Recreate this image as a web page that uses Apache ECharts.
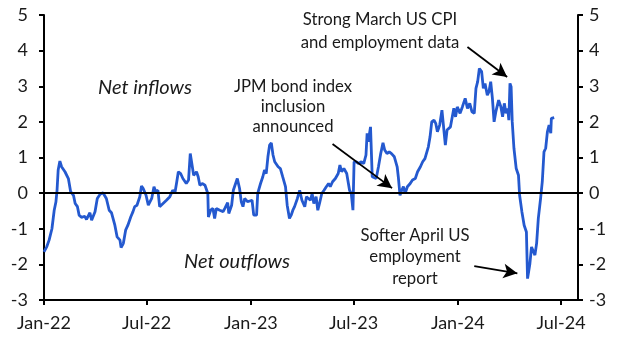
<!DOCTYPE html>
<html><head><meta charset="utf-8">
<script src="https://cdn.jsdelivr.net/npm/echarts@6/dist/echarts.min.js"></script>
<style>html,body{margin:0;padding:0;background:#fff}#c{width:629px;height:356px}</style>
</head><body><div id="c"></div>
<script>
const dates = ['2022-01-01','2022-01-06','2022-01-10','2022-01-15','2022-01-19','2022-01-22','2022-01-24','2022-01-26','2022-01-29','2022-02-01','2022-02-07','2022-02-13','2022-02-17','2022-02-22','2022-02-25','2022-03-01','2022-03-04','2022-03-08','2022-03-14','2022-03-17','2022-03-23','2022-03-26','2022-04-01','2022-04-05','2022-04-10','2022-04-15','2022-04-18','2022-04-21','2022-04-26','2022-04-30','2022-05-06','2022-05-10','2022-05-15','2022-05-17','2022-05-21','2022-05-25','2022-05-29','2022-06-03','2022-06-07','2022-06-10','2022-06-14','2022-06-19','2022-06-22','2022-06-25','2022-06-30','2022-07-04','2022-07-10','2022-07-14','2022-07-17','2022-07-21','2022-07-24','2022-07-30','2022-08-05','2022-08-11','2022-08-16','2022-08-20','2022-08-23','2022-08-26','2022-08-30','2022-09-03','2022-09-09','2022-09-13','2022-09-16','2022-09-19','2022-09-22','2022-09-27','2022-09-30','2022-10-03','2022-10-07','2022-10-12','2022-10-15','2022-10-17','2022-10-18','2022-10-22','2022-10-26','2022-10-29','2022-11-01','2022-11-07','2022-11-13','2022-11-16','2022-11-21','2022-11-23','2022-11-28','2022-12-01','2022-12-05','2022-12-08','2022-12-10','2022-12-12','2022-12-15','2022-12-18','2022-12-21','2022-12-26','2022-12-30','2023-01-03','2023-01-06','2023-01-11','2023-01-13','2023-01-18','2023-01-22','2023-01-25','2023-01-28','2023-01-31','2023-02-03','2023-02-06','2023-02-09','2023-02-12','2023-02-15','2023-02-18','2023-02-22','2023-02-26','2023-03-03','2023-03-06','2023-03-10','2023-03-13','2023-03-16','2023-03-19','2023-03-24','2023-03-28','2023-03-30','2023-04-01','2023-04-06','2023-04-09','2023-04-12','2023-04-16','2023-04-19','2023-04-22','2023-04-26','2023-04-29','2023-05-02','2023-05-06','2023-05-10','2023-05-14','2023-05-18','2023-05-21','2023-05-25','2023-05-30','2023-06-04','2023-06-07','2023-06-10','2023-06-14','2023-06-19','2023-06-24','2023-06-27','2023-06-30','2023-07-02','2023-07-06','2023-07-10','2023-07-15','2023-07-19','2023-07-23','2023-07-25','2023-07-27','2023-07-31','2023-08-03','2023-08-06','2023-08-10','2023-08-14','2023-08-18','2023-08-22','2023-08-25','2023-08-29','2023-09-02','2023-09-06','2023-09-11','2023-09-16','2023-09-18','2023-09-21','2023-09-24','2023-09-27','2023-09-30','2023-10-04','2023-10-09','2023-10-13','2023-10-18','2023-10-22','2023-10-27','2023-10-31','2023-11-04','2023-11-07','2023-11-10','2023-11-13','2023-11-16','2023-11-20','2023-11-23','2023-11-26','2023-11-30','2023-12-04','2023-12-10','2023-12-13','2023-12-19','2023-12-25','2023-12-28','2023-12-31','2024-01-05','2024-01-09','2024-01-14','2024-01-18','2024-01-22','2024-01-26','2024-01-30','2024-02-02','2024-02-05','2024-02-08','2024-02-12','2024-02-15','2024-02-18','2024-02-22','2024-02-25','2024-02-28','2024-03-02','2024-03-05','2024-03-08','2024-03-13','2024-03-17','2024-03-20','2024-03-23','2024-03-26','2024-03-29','2024-03-31','2024-04-02','2024-04-04','2024-04-06','2024-04-09','2024-04-13','2024-04-17','2024-04-19','2024-04-23','2024-04-27','2024-05-01','2024-05-03','2024-05-07','2024-05-10','2024-05-13','2024-05-16','2024-05-19','2024-05-22','2024-05-26','2024-05-29','2024-06-01','2024-06-04','2024-06-07','2024-06-10','2024-06-13','2024-06-14','2024-06-17','2024-06-19'];
const values = [-1.65,-1.5,-1.32,-1.0,-0.48,-0.25,0.08,0.65,0.9,0.74,0.6,0.41,0.04,-0.06,-0.29,-0.38,-0.62,-0.68,-0.65,-0.74,-0.55,-0.76,-0.52,-0.15,-0.03,0.01,0.04,-0.15,-0.48,-0.55,-0.9,-1.23,-1.32,-1.53,-1.41,-1.04,-0.9,-0.67,-0.52,-0.38,-0.34,-0.1,0.2,0.13,-0.06,-0.34,-0.15,0.18,0.04,0.08,-0.38,-0.29,-0.2,-0.1,0.08,0.01,0.3,0.6,0.55,0.41,0.27,0.37,1.11,1.11,0.5,0.6,0.46,0.22,0.27,0.22,0.27,-0.01,-0.67,-0.48,-0.43,-0.71,-0.43,-0.48,-0.52,-0.43,-0.27,-0.57,-0.34,0.08,0.27,0.41,0.37,0.13,-0.24,-0.38,-0.15,-0.24,-0.22,-0.2,-0.62,-0.62,-0.01,0.27,0.46,0.65,0.55,1.02,1.35,1.41,1.07,0.88,0.93,0.74,0.69,0.46,0.18,-0.34,-0.71,-0.62,-0.48,-0.38,-0.15,0.08,0.13,-0.2,-0.38,-0.1,-0.06,-0.2,-0.01,-0.29,-0.1,-0.48,-0.29,-0.01,0.08,0.18,0.27,0.18,0.32,0.41,0.55,0.79,0.6,0.69,0.55,0.08,-0.01,-0.48,0.88,0.88,0.83,0.88,0.83,1.07,1.68,1.44,1.86,0.46,0.5,0.41,0.74,1.11,1.41,1.21,1.11,1.16,1.11,1.02,0.74,0.46,-0.06,0.08,0.18,-0.01,0.18,0.27,0.37,0.41,0.6,0.74,0.88,0.97,0.93,1.3,1.58,2.0,2.05,1.96,1.72,1.91,2.33,1.35,1.77,1.86,2.38,2.14,2.42,2.24,2.42,2.66,2.38,2.52,2.28,2.24,2.94,3.13,3.5,3.41,2.94,3.08,2.75,2.85,3.13,2.66,2.0,2.28,2.61,2.42,2.14,2.52,2.24,2.38,2.05,3.08,2.99,2.0,1.26,0.69,0.5,-0.06,-0.52,-0.9,-1.09,-2.4,-2.0,-1.51,-1.46,-1.74,-1.41,-0.71,-0.15,0.32,1.16,1.26,1.72,1.91,1.68,2.1,2.14,2.12];
const tickDates = ['2022-01-01','2022-07-01','2023-01-01','2023-07-01','2024-01-01','2024-07-01'];
const tickLabels = ['Jan-22','Jul-22','Jan-23','Jul-23','Jan-24','Jul-24'];
const xMin = '2022-01-01', xMax = '2024-07-31';
const yMin = -3, yMax = 5, yStep = 1;
const arrows = [
  [['2023-05-25', 1.38], ['2023-09-07', 0.14]],
  [['2024-01-18', 4.10], ['2024-03-28', 3.26]],
  [['2024-01-30', -2.05], ['2024-04-15', -2.25]]
];

function ts(s){ const p = s.split('-').map(Number); return Date.UTC(p[0], p[1]-1, p[2]); }
const tickTs = tickDates.map(ts);
const seriesData = dates.map((d, i) => [ts(d), values[i]]);
const FONT = 'Lato, "Open Sans", sans-serif';

const chart = echarts.init(document.getElementById('c'), null, {renderer: 'canvas'});
const yAxisBase = {
  type: 'value', min: yMin, max: yMax, interval: yStep,
  axisLine: {show: true, lineStyle: {color: '#000', width: 2}},
  axisTick: {show: true, inside: false, length: 5, lineStyle: {color: '#000', width: 2}},
  splitLine: {show: false},
  axisLabel: {color: '#1a1a1a', fontSize: 18, fontFamily: FONT}
};
chart.setOption({
  animation: false,
  backgroundColor: '#fff',
  grid: {left: 44, right: 51, top: 15, bottom: 56, containLabel: false},
  xAxis: {
    type: 'value', min: ts(xMin), max: ts(xMax),
    axisLine: {show: true, onZero: false, lineStyle: {color: '#000', width: 2}},
    axisTick: {show: true, length: 5, lineStyle: {color: '#000', width: 2}, customValues: tickTs},
    axisLabel: {
      color: '#1a1a1a', fontSize: 18, fontFamily: FONT, margin: 14,
      customValues: tickTs, showMinLabel: true, showMaxLabel: true,
      formatter: function (v) { const i = tickTs.indexOf(v); return i >= 0 ? tickLabels[i] : ''; }
    },
    splitLine: {show: false}
  },
  yAxis: [
    Object.assign({}, yAxisBase, {position: 'left', axisLabel: Object.assign({}, yAxisBase.axisLabel, {margin: 16})}),
    Object.assign({}, yAxisBase, {position: 'right', axisLabel: Object.assign({}, yAxisBase.axisLabel, {margin: 11, align: 'left'})})
  ],
  series: [{
    type: 'line', data: seriesData, showSymbol: false, symbol: 'none',
    lineStyle: {color: '#2459CF', width: 2.8}, itemStyle: {color: '#2459CF'},
    z: 3,
    markLine: {
      silent: true, symbol: ['none', 'none'], animation: false,
      label: {show: false},
      lineStyle: {color: '#000', width: 2, type: 'solid'},
      data: [{yAxis: 0, lineStyle: {color: '#000', width: 2, type: 'solid'}}].concat(arrows.map(a => [
        {coord: [ts(a[0][0]), a[0][1]], symbol: 'none', lineStyle: {color: '#000', width: 1.8, type: 'solid'}},
        {coord: [ts(a[1][0]), a[1][1]], symbol: 'arrow', symbolSize: [11, 14]}
      ]))
    }
  }],
  graphic: [
    {type: 'text', x: 145, y: 88, style: {text: 'Net inflows', font: 'italic 20px ' + FONT, fill: '#1a1a1a', align: 'center', verticalAlign: 'middle'}},
    {type: 'text', x: 237, y: 262, style: {text: 'Net outflows', font: 'italic 20px ' + FONT, fill: '#1a1a1a', align: 'center', verticalAlign: 'middle'}},
    {type: 'text', x: 293, y: 107, style: {text: 'JPM bond index\ninclusion\nannounced', font: '16.7px ' + FONT, lineHeight: 20, fill: '#1a1a1a', align: 'center', verticalAlign: 'middle'}},
    {type: 'text', x: 380, y: 31, style: {text: 'Strong March US CPI\nand employment data', font: '16.7px ' + FONT, lineHeight: 23, fill: '#1a1a1a', align: 'center', verticalAlign: 'middle'}},
    {type: 'text', x: 415, y: 257, style: {text: 'Softer April US\nemployment\nreport', font: '16.7px ' + FONT, lineHeight: 21.5, fill: '#1a1a1a', align: 'center', verticalAlign: 'middle'}}
  ]
});
</script></body></html>
